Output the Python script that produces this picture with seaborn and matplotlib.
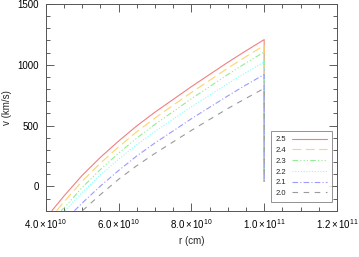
import matplotlib
matplotlib.use("Agg")
import matplotlib.pyplot as plt
import seaborn as sns
import pandas as pd
from matplotlib.ticker import MultipleLocator, FixedLocator

sns.set_style("ticks")
plt.rcParams['font.family'] = ['Liberation Sans', 'DejaVu Sans']
plt.rcParams['mathtext.fontset'] = 'custom'
plt.rcParams['mathtext.rm'] = 'Liberation Sans'
plt.rcParams['mathtext.it'] = 'Liberation Sans'

# radius in units of 1e10 cm, velocity in km/s
labels = ["2.5", "2.4", "2.3", "2.2", "2.1", "2.0"]

r_25 = [4.17, 4.5, 5.0, 5.5, 6.0, 6.5, 7.0, 7.5, 8.0, 8.5, 9.0, 9.5, 10.0, 10.0]
v_25 = [-200, -80, 90, 238, 372, 497, 610, 715, 820, 920, 1020, 1115, 1207, 40]

r_24 = [4.30, 4.5, 5.0, 5.5, 6.0, 6.5, 7.0, 7.5, 8.0, 8.5, 9.0, 9.5, 10.0, 10.0]
v_24 = [-200, -128, 42, 190, 324, 449, 562, 667, 772, 872, 972, 1067, 1159, 40]

r_23 = [4.42, 4.5, 5.0, 5.5, 6.0, 6.5, 7.0, 7.5, 8.0, 8.5, 9.0, 9.5, 10.0, 10.0]
v_23 = [-200, -180, -10, 138, 272, 397, 510, 615, 720, 820, 920, 1015, 1105, 40]

r_22 = [4.53, 5.0, 5.5, 6.0, 6.5, 7.0, 7.5, 8.0, 8.5, 9.0, 9.5, 10.0, 10.0]
v_22 = [-200, -51, 93, 223, 343, 452, 553, 654, 750, 845, 936, 1024, 40]

r_21 = [4.79, 5.0, 5.5, 6.0, 6.5, 7.0, 7.5, 8.0, 8.5, 9.0, 9.5, 10.0, 10.0]
v_21 = [-200, -138, 2, 130, 250, 357, 456, 556, 650, 744, 834, 920, 40]

r_20 = [5.01, 5.5, 6.0, 6.5, 7.0, 7.5, 8.0, 8.5, 9.0, 9.5, 10.0, 10.0]
v_20 = [-200, -68, 58, 170, 271, 366, 460, 550, 640, 724, 806, 40]

series_r = [r_25, r_24, r_23, r_22, r_21, r_20]
series_v = [v_25, v_24, v_23, v_22, v_21, v_20]

colors = ["#f08080", "#ffd36e", "#90ee90", "#80ffff", "#9a9aff", "#9a9a9a"]
styles = ["-", (0, (8, 4)), (0, (5, 2, 1, 2, 1, 2, 1, 2)), (0, (1, 1.5)),
          (0, (5, 2, 1, 2)), (0, (5, 5))]

xticks = [4e10, 6e10, 8e10, 1e11, 1.2e11]
xticklabels = [r"$\mathregular{4.0\times10^{10}}$", r"$\mathregular{6.0\times10^{10}}$",
               r"$\mathregular{8.0\times10^{10}}$", r"$\mathregular{1.0\times10^{11}}$",
               r"$\mathregular{1.2\times10^{11}}$"]
yticks = [0, 500, 1000, 1500]

fig = plt.figure(figsize=(3.59, 2.57), dpi=100)
ax = fig.add_axes([0.1273, 0.1802, 0.8114, 0.8043])

for lab, rr, vv, c, ls in zip(labels, series_r, series_v, colors, styles):
    df = pd.DataFrame({"r": [x * 1e10 for x in rr], "v": vv})
    sns.lineplot(data=df, x="r", y="v", ax=ax, sort=False, estimator=None,
                 color=c, linestyle=ls, linewidth=0.8, label=lab)

ax.set_xlim(4e10, 1.2e11)
ax.set_ylim(-200, 1500)
ax.xaxis.set_major_locator(FixedLocator(xticks))
ax.set_xticklabels(xticklabels)
ax.xaxis.set_minor_locator(MultipleLocator(5e9))
ax.yaxis.set_major_locator(FixedLocator(yticks))
ax.yaxis.set_minor_locator(MultipleLocator(100))

ax.tick_params(which='both', direction='in', top=True, right=True,
               colors='#444444', labelcolor='black', labelsize=7, width=0.6)
ax.tick_params(which='major', length=5.5, pad=5)
ax.tick_params(which='minor', length=2.8)
for sp in ax.spines.values():
    sp.set_color('#555555')
    sp.set_linewidth(0.7)

ax.set_xlabel("r (cm)", fontsize=7, labelpad=3)
ax.set_ylabel("v (km/s)", fontsize=7, labelpad=4)

leg = ax.legend(loc='lower right', bbox_to_anchor=(0.982, 0.0435), borderaxespad=0,
                markerfirst=False, fontsize=5.5, handlelength=4.6, labelspacing=0.45,
                fancybox=False, frameon=True, borderpad=0.6, handletextpad=0.8)
leg.get_frame().set_edgecolor('#777777')
leg.get_frame().set_linewidth(0.7)

fig.savefig("out.png", dpi=100)
